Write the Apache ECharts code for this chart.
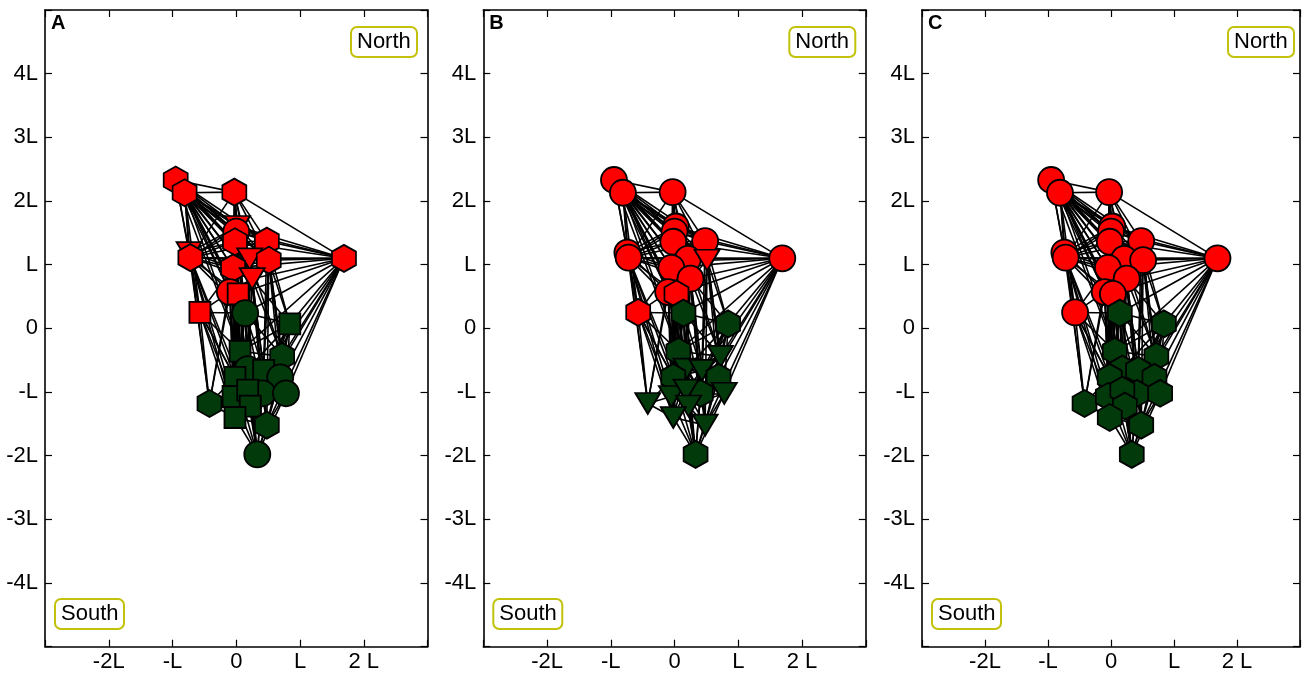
<!DOCTYPE html>
<html>
<head>
<meta charset="utf-8" />
<script src="https://cdn.jsdelivr.net/npm/echarts@6/dist/echarts.min.js"></script>
<style>
  html, body { margin: 0; padding: 0; background: #fff; }
  #chart { width: 1303px; height: 674px; }
</style>
</head>
<body>
<div id="chart"></div>
<script>
// tick values and their labels (in units of L)
const xTickValues = [-2, -1, 0, 1, 2];
const xTickLabels = ['-2L', '-L', '0', 'L', '2 L'];
const yTickValues = [-4, -3, -2, -1, 0, 1, 2, 3, 4];
const yTickLabels = ['-4L', '-3L', '-2L', '-L', '0', 'L', '2L', '3L', '4L'];

// node layout (shared by the three panels)
const nodeX = [
  -0.95, -0.81, -0.03, 0.02, 0.00, -0.02, 0.48, -0.74, -0.72, 0.21, 0.51, -0.05, 0.25, -0.10, 0.03, 1.69, -0.57,
  0.14, 0.84, 0.06, 0.72, 0.18, 0.43, 0.69, -0.02, 0.41, 0.78, -0.42, -0.05, 0.18, 0.22, -0.02, 0.48, 0.33
];
const nodeY = [
  2.33, 2.13, 2.14, 1.60, 1.52, 1.36, 1.37, 1.19, 1.11, 1.09, 1.07, 0.95, 0.78, 0.57, 0.54, 1.10, 0.25,
  0.24, 0.07, -0.36, -0.44, -0.64, -0.66, -0.77, -0.77, -1.02, -1.02, -1.18, -1.07, -0.97, -1.22, -1.40, -1.52, -1.98
];
// N = North (red), S = South (green)
const nodeGroup = [
  'N', 'N', 'N', 'N', 'N', 'N', 'N', 'N', 'N', 'N', 'N', 'N', 'N', 'N', 'N', 'N', 'N',
  'S', 'S', 'S', 'S', 'S', 'S', 'S', 'S', 'S', 'S', 'S', 'S', 'S', 'S', 'S', 'S', 'S'
];

// marker shape per node: c circle, s square, h hexagon, t down triangle
const shapesA = [
  'h', 'h', 'h', 't', 'c', 'h', 'h', 't', 'h', 't', 'h', 'h', 't', 'c', 's', 'h', 's',
  'c', 's', 's', 'h', 'c', 's', 'c', 's', 'c', 'c', 'h', 's', 's', 's', 's', 'h', 'c'
];
const shapesB = [
  'c', 'c', 'c', 'c', 'c', 'c', 'c', 'c', 'c', 'c', 't', 'c', 'c', 'c', 'h', 'c', 'h',
  'h', 'h', 'h', 't', 't', 't', 'h', 'h', 'h', 't', 't', 't', 't', 't', 't', 't', 'h'
];
const shapesC = [
  'c', 'c', 'c', 'c', 'c', 'c', 'c', 'c', 'c', 'c', 'c', 'c', 'c', 'c', 'c', 'c', 'c',
  'h', 'h', 'h', 'h', 'h', 'h', 'h', 'h', 'h', 'h', 'h', 'h', 'h', 'h', 'h', 'h', 'h'
];

// links: for each node, the higher-numbered nodes it is joined to
const neighbours = [
  [1, 2, 3, 4, 5, 6, 7, 8, 9, 10, 11, 12, 13, 14, 19],
  [2, 3, 4, 5, 6, 7, 8, 9, 10, 11, 12, 13, 14, 16, 17, 21],
  [3, 4, 5, 6, 8, 9, 10, 11, 12, 14, 15, 17, 19],
  [4, 5, 6, 7, 8, 9, 10, 11, 12, 15, 19, 24],
  [5, 6, 8, 9, 10, 11, 13, 14, 15, 17, 19, 28],
  [6, 7, 8, 9, 10, 11, 12, 15, 17, 19, 24, 31],
  [8, 9, 10, 11, 12, 15, 18, 20, 22, 26],
  [8, 11, 13, 16, 27, 28, 31],
  [9, 10, 11, 12, 14, 15, 16, 17, 24, 27, 30],
  [10, 11, 12, 15, 17, 20, 21, 22, 25, 30],
  [11, 12, 15, 18, 20, 22, 23, 25, 26, 32],
  [12, 13, 14, 15, 16, 19, 21, 24, 27, 28],
  [13, 14, 15, 17, 18, 20, 22, 25, 29, 32],
  [14, 16, 17, 19, 24, 27, 28, 31],
  [15, 17, 19, 21, 24, 28, 29, 31, 33],
  [17, 18, 19, 20, 22, 23, 25, 26, 32],
  [17, 19, 24, 27, 28, 30, 31],
  [18, 19, 20, 21, 22, 24, 25, 28, 29, 31, 33],
  [19, 20, 21, 22, 23, 25, 26, 30],
  [20, 21, 22, 23, 24, 25, 28, 29, 30, 31, 33],
  [21, 22, 23, 25, 26, 29, 32],
  [22, 23, 24, 25, 28, 29, 30, 31, 33],
  [23, 24, 25, 26, 29, 30, 32, 33],
  [25, 26, 29, 32, 33],
  [27, 28, 29, 30, 31, 33],
  [26, 28, 29, 30, 32, 33],
  [30, 32, 33],
  [28, 31],
  [29, 30, 31, 33],
  [30, 31, 32, 33],
  [31, 32, 33],
  [32, 33],
  [33],
  []
];

const panelNames = ['A', 'B', 'C'];
const panelShapes = [shapesA, shapesB, shapesC];

const groupColor = { N: '#ff0000', S: '#023a0c' };
const symbolDefs = {
  c: { symbol: 'circle', size: 26 },
  s: { symbol: 'rect', size: 21 },
  h: { symbol: 'path://M0,-1 L0.866,-0.5 L0.866,0.5 L0,1 L-0.866,0.5 L-0.866,-0.5 Z', size: [24, 27] },
  t: { symbol: 'path://M0,0 L2,0 L1,1.65 Z', size: [25, 21] }
};

const links = [];
neighbours.forEach((list, s) => {
  list.forEach(t => links.push({ source: s, target: t }));
});

const panelLeft = [45, 483.3, 922];
const panelWidth = 382.5;
const panelTop = 10;
const panelHeight = 636.7;
const font = "'Liberation Sans', Arial, Helvetica, sans-serif";

const tickFmt = (values, labels) => v => {
  const i = values.indexOf(Math.round(v * 1000) / 1000);
  return i < 0 ? '' : labels[i];
};

const grid = [], xAxis = [], yAxis = [], series = [], title = [];

panelNames.forEach((name, p) => {
  grid.push({ left: panelLeft[p], top: panelTop, width: panelWidth, height: panelHeight });

  const common = {
    type: 'value',
    gridIndex: p,
    interval: 1,
    splitLine: { show: false },
    axisLine: { show: true, onZero: false, lineStyle: { color: '#000', width: 1.6 } },
    axisTick: { show: true, inside: true, length: 7, lineStyle: { color: '#000', width: 1.2 } }
  };
  xAxis.push(Object.assign({}, common, {
    min: -3, max: 3, position: 'bottom',
    axisLabel: {
      margin: 4, fontSize: 22, color: '#000', fontFamily: font,
      formatter: tickFmt(xTickValues, xTickLabels)
    }
  }));
  xAxis.push(Object.assign({}, common, {
    min: -3, max: 3, position: 'top', axisLabel: { show: false }
  }));
  yAxis.push(Object.assign({}, common, {
    min: -5, max: 5, position: 'left',
    axisLabel: {
      margin: 7, fontSize: 22, color: '#000', fontFamily: font,
      formatter: tickFmt(yTickValues, yTickLabels)
    }
  }));
  yAxis.push(Object.assign({}, common, {
    min: -5, max: 5, position: 'right', axisLabel: { show: false }
  }));

  const shapes = panelShapes[p];
  series.push({
    type: 'graph',
    coordinateSystem: 'cartesian2d',
    xAxisIndex: 2 * p,
    yAxisIndex: 2 * p,
    silent: true,
    animation: false,
    data: nodeX.map((x, i) => {
      const def = symbolDefs[shapes[i]];
      return {
        value: [x, nodeY[i]],
        symbol: def.symbol,
        symbolSize: def.size,
        itemStyle: { color: groupColor[nodeGroup[i]] }
      };
    }),
    links: links,
    itemStyle: { borderColor: '#000', borderWidth: 1.8, opacity: 1 },
    lineStyle: { color: '#000', width: 1.6, opacity: 1, curveness: 0 },
    label: { show: false }
  });

  title.push({
    text: name,
    left: panelLeft[p] + 6,
    top: 13,
    padding: 0,
    textStyle: { fontSize: 20, fontWeight: 'bold', color: '#000', fontFamily: font, lineHeight: 20 }
  });
  const boxStyle = {
    borderColor: '#c2c20a',
    borderWidth: 2,
    borderRadius: 6,
    backgroundColor: '#fff',
    padding: [4, 6]
  };
  title.push(Object.assign({
    text: 'North',
    left: panelLeft[p] + 306,
    top: 27,
    textStyle: { fontSize: 22, fontWeight: 'normal', color: '#000', fontFamily: font, lineHeight: 22 }
  }, boxStyle));
  title.push(Object.assign({
    text: 'South',
    left: panelLeft[p] + 10,
    top: 599,
    textStyle: { fontSize: 22, fontWeight: 'normal', color: '#000', fontFamily: font, lineHeight: 22 }
  }, boxStyle));
});

const chart = echarts.init(document.getElementById('chart'));
chart.setOption({
  backgroundColor: '#fff',
  animation: false,
  title: title,
  grid: grid,
  xAxis: xAxis,
  yAxis: yAxis,
  series: series
});
</script>
</body>
</html>
